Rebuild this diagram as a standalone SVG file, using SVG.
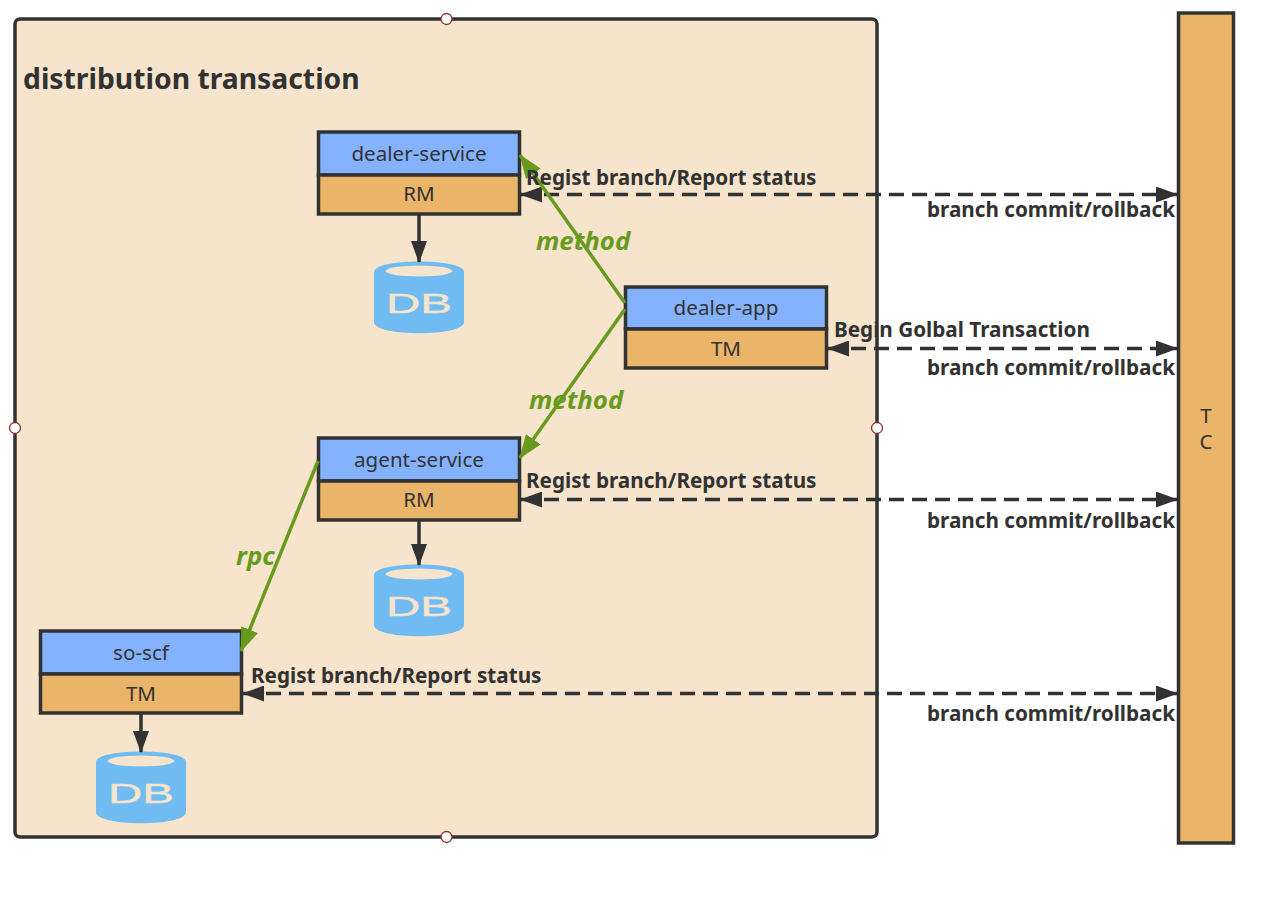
<svg xmlns="http://www.w3.org/2000/svg" width="1268" height="898" viewBox="0 0 1268 898">
<style>
text{font-family:"Noto Sans","Open Sans","Liberation Sans",sans-serif;fill:#323232}
.box{stroke:#323232;stroke-width:3.500}
.blue{fill:#85b2ff}
.or{fill:#eab469}
.nt{font-size:20.600px;text-anchor:middle}
.lb{font-size:20.700px;font-weight:700}
.r{text-anchor:end}
.gl{font-size:25.800px;font-weight:700;font-style:italic;fill:#689a1e}
.dash{fill:none;stroke:#323232;stroke-width:3.500;stroke-dasharray:15 8}
.green{fill:none;stroke:#689a1e;stroke-width:3.500}
.solid{fill:none;stroke:#323232;stroke-width:3.500}
.h{fill:#fff;stroke:#8a3030;stroke-width:1.300}
.cyl{fill:#70bbf2}
.top{fill:#f6e4cc}
.db{font-size:27px;fill:#f6e4cc;stroke:#f6e4cc;stroke-width:.4;font-family:"Liberation Sans",sans-serif}
</style>
<defs>
<marker id="a" viewBox="0 0 22 16" refX="21" refY="8" markerWidth="22" markerHeight="16" markerUnits="userSpaceOnUse" orient="auto-start-reverse"><path d="M0 0L22 8L0 16Z" fill="#323232"/></marker>
<marker id="g" viewBox="0 0 24 18" refX="23" refY="9" markerWidth="24" markerHeight="18" markerUnits="userSpaceOnUse" orient="auto"><path d="M0 0L24 9L0 18Z" fill="#689a1e"/></marker>
</defs>
<g id="distribution-transaction">
<rect x="15" y="19" width="862" height="818" rx="5" fill="#f6e4cc" stroke="#323232" stroke-width="3.500"/>
<circle class="h" cx="446.500" cy="19" r="5.500"/><circle class="h" cx="446.500" cy="837" r="5.500"/><circle class="h" cx="15" cy="428" r="5.500"/><circle class="h" cx="877" cy="428" r="5.500"/>
<text x="23" y="89" font-size="28.300" font-weight="700">distribution transaction</text>
</g>
<g id="tc"><rect class="box or" x="1178.500" y="13" width="55" height="830"/><text class="nt" x="1206" y="423">T</text><text class="nt" x="1206" y="449">C</text></g>
<g id="dealer-service"><rect class="box blue" x="318.500" y="132" width="201" height="43"/><rect class="box or" x="318.500" y="175" width="201" height="39"/><text class="nt" x="419" y="161">dealer-service</text><text class="nt" x="419" y="201">RM</text></g>
<g id="dealer-app"><rect class="box blue" x="625.500" y="287" width="201" height="42"/><rect class="box or" x="625.500" y="329" width="201" height="39"/><text class="nt" x="726" y="315">dealer-app</text><text class="nt" x="726" y="356">TM</text></g>
<g id="agent-service"><rect class="box blue" x="318.500" y="438" width="201" height="43"/><rect class="box or" x="318.500" y="481" width="201" height="39"/><text class="nt" x="419" y="467">agent-service</text><text class="nt" x="419" y="507">RM</text></g>
<g id="so-scf"><rect class="box blue" x="40.500" y="631" width="201" height="43"/><rect class="box or" x="40.500" y="674" width="201" height="39"/><text class="nt" x="141" y="660">so-scf</text><text class="nt" x="141" y="701">TM</text></g>
<g id="db-1"><path class="cyl" d="M374 272C374 258 464 258 464 272V322C464 337 374 337 374 322Z"/><ellipse class="top" cx="419" cy="271" rx="33.500" ry="5.500"/><text class="db" x="386" y="313" textLength="66" lengthAdjust="spacingAndGlyphs">DB</text></g>
<g id="db-2"><path class="cyl" d="M374 575C374 561 464 561 464 575V625C464 640 374 640 374 625Z"/><ellipse class="top" cx="419" cy="574" rx="33.500" ry="5.500"/><text class="db" x="386" y="616" textLength="66" lengthAdjust="spacingAndGlyphs">DB</text></g>
<g id="db-3"><path class="cyl" d="M96 762C96 748 186 748 186 762V812C186 827 96 827 96 812Z"/><ellipse class="top" cx="141" cy="761" rx="33.500" ry="5.500"/><text class="db" x="108" y="803" textLength="66" lengthAdjust="spacingAndGlyphs">DB</text></g>
<g id="connectors">
<path class="solid" d="M419 215V262" marker-end="url(#a)"/>
<path class="solid" d="M419 521V565" marker-end="url(#a)"/>
<path class="solid" d="M141 714V752" marker-end="url(#a)"/>
<path class="dash" d="M521 194.500H1177" marker-start="url(#a)" marker-end="url(#a)"/>
<path class="dash" d="M828 348.500H1177" marker-start="url(#a)" marker-end="url(#a)"/>
<path class="dash" d="M521 499.500H1177" marker-start="url(#a)" marker-end="url(#a)"/>
<path class="dash" d="M243 693.500H1177" marker-start="url(#a)" marker-end="url(#a)"/>
<path class="green" d="M625 303L520 155" marker-end="url(#g)"/>
<path class="green" d="M625 309L520 458" marker-end="url(#g)"/>
<path class="green" d="M318 461L241 651" marker-end="url(#g)"/>
</g>
<g id="labels">
<text class="lb" x="526" y="185">Regist branch/Report status</text>
<text class="lb r" x="1175" y="217">branch commit/rollback</text>
<text class="lb" x="834" y="337">Begin Golbal Transaction</text>
<text class="lb r" x="1175" y="375">branch commit/rollback</text>
<text class="lb" x="526" y="488">Regist branch/Report status</text>
<text class="lb r" x="1175" y="528">branch commit/rollback</text>
<text class="lb" x="251" y="683">Regist branch/Report status</text>
<text class="lb r" x="1175" y="721">branch commit/rollback</text>
<text class="gl" x="536" y="250">method</text>
<text class="gl" x="529" y="409">method</text>
<text class="gl" x="236" y="565">rpc</text>
</g>
</svg>
